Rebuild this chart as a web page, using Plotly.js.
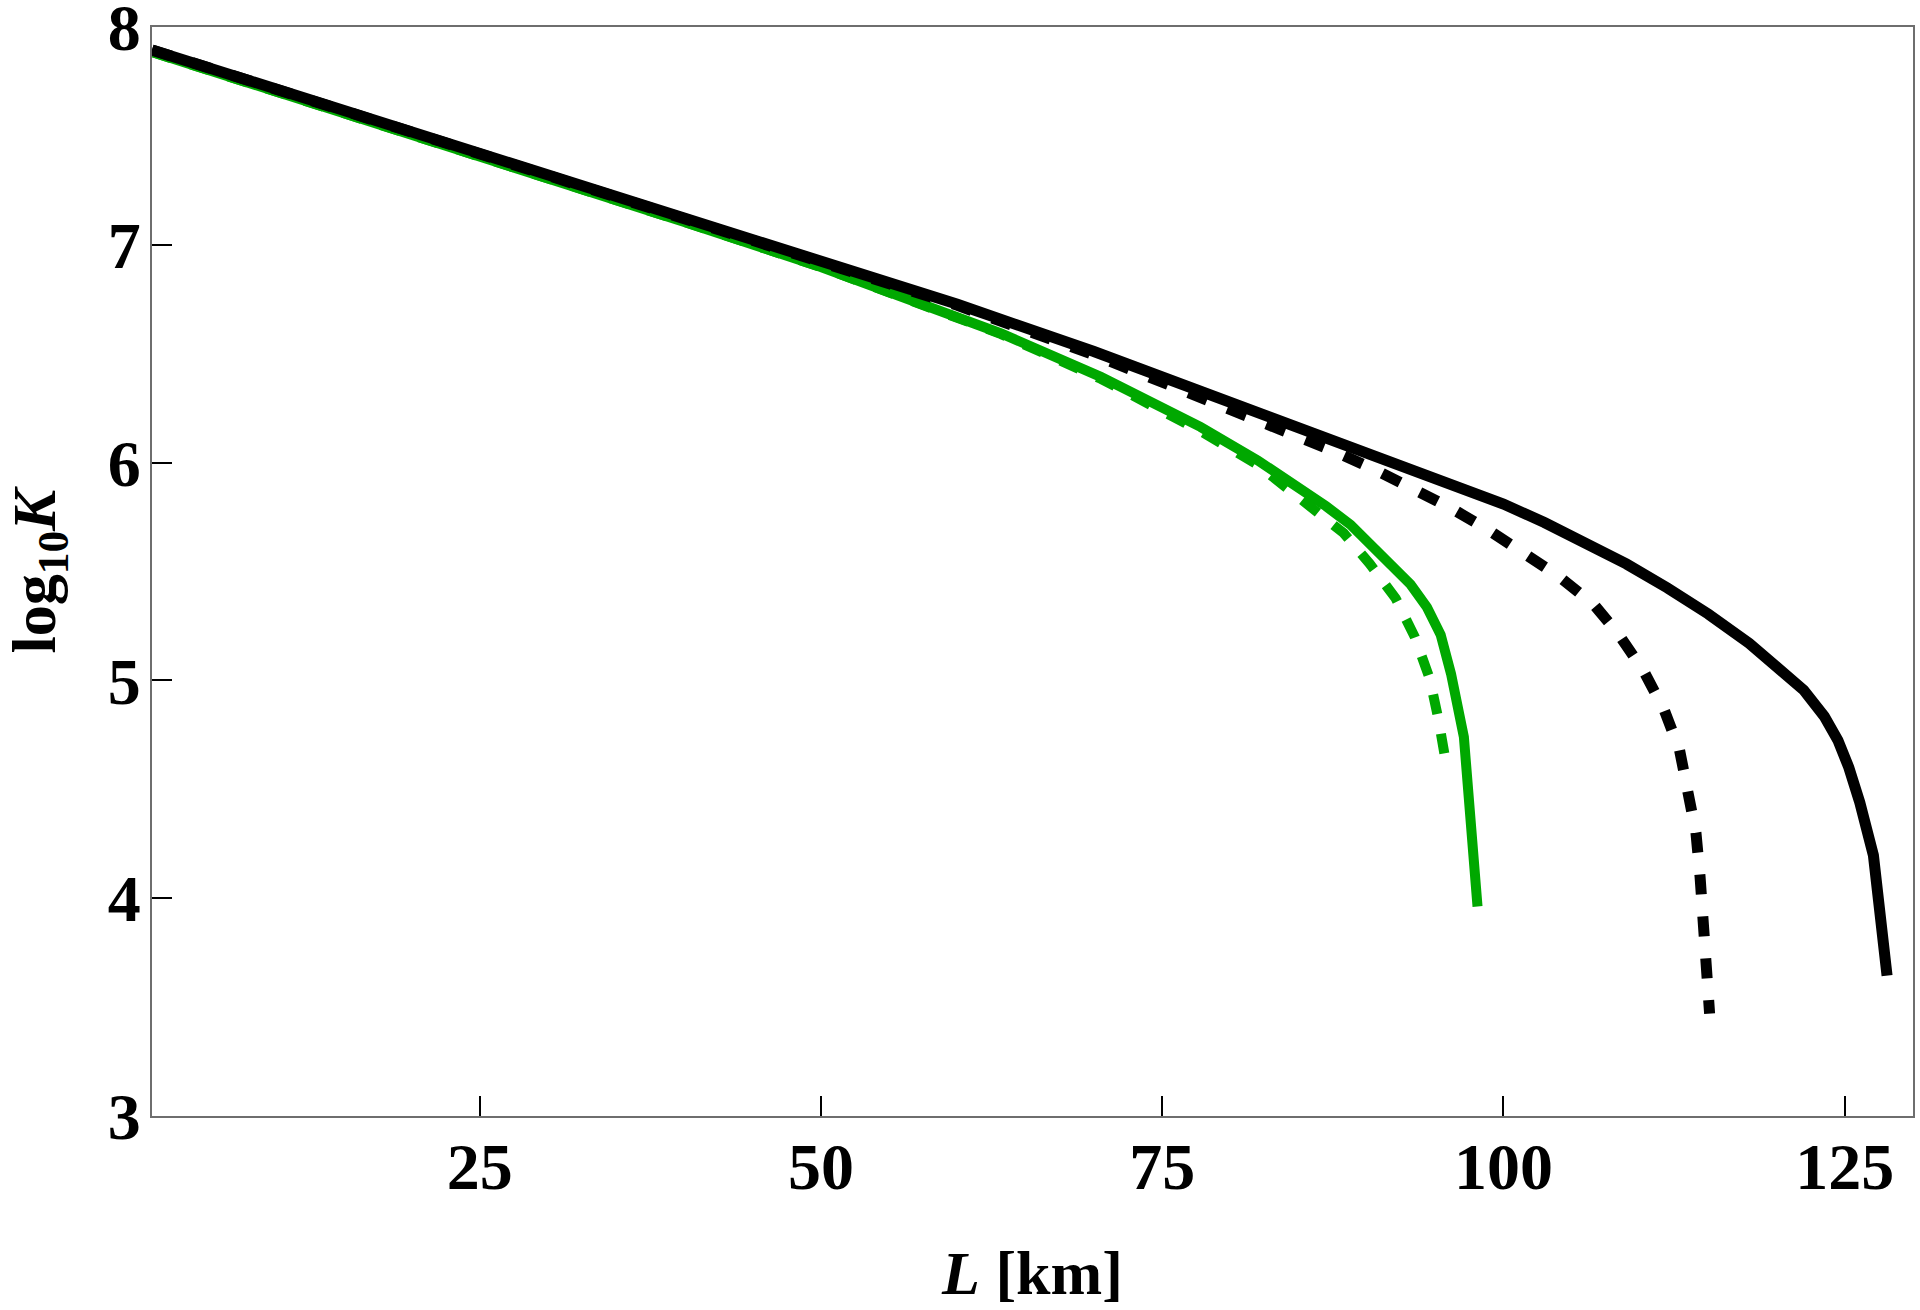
<!DOCTYPE html>
<html>
<head>
<meta charset="utf-8">
<script src="https://cdn.plot.ly/plotly-3.0.1.min.js"></script>
<style>
  html, body { margin: 0; padding: 0; background: #fff; }
  #graph { width: 1920px; height: 1310px; }
</style>
</head>
<body>
<div id="graph"></div>
<script>
// L [km] and log10 K
var blackSolidL = [1, 10, 20, 30, 40, 50, 60, 70, 80, 90, 100, 103, 106, 109, 112, 115, 118, 120.1, 122, 123.5, 124.5, 125.3, 126.1, 127.1, 128.1];
var blackSolidK = [7.895, 7.717, 7.519, 7.321, 7.123, 6.925, 6.727, 6.51, 6.28, 6.045, 5.81, 5.725, 5.635, 5.535, 5.425, 5.305, 5.17, 5.065, 4.955, 4.835, 4.725, 4.60, 4.44, 4.197, 3.645];

var blackDashL = [1, 10, 20, 30, 40, 50, 60, 70, 79, 84.6, 87.5, 90.5, 93.3, 96.1, 98.8, 101.2, 104, 106.6, 108.4, 110.3, 111.8, 112.9, 113.6, 114.1, 114.4, 114.6, 114.8, 115.1];
var blackDashK = [7.895, 7.717, 7.519, 7.321, 7.123, 6.925, 6.722, 6.495, 6.273, 6.135, 6.055, 5.97, 5.886, 5.793, 5.695, 5.60, 5.48, 5.35, 5.215, 5.04, 4.86, 4.68, 4.49, 4.30, 4.10, 3.91, 3.71, 3.47];

var greenSolidL = [1, 10, 20, 30, 40, 50, 59.5, 63.2, 70.5, 77.8, 82, 85.2, 87, 88.8, 91.3, 93.2, 94.4, 95.4, 96.16, 97.1, 98.1];
var greenSolidK = [7.885, 7.706, 7.507, 7.309, 7.105, 6.898, 6.686, 6.593, 6.394, 6.164, 6.01, 5.88, 5.80, 5.715, 5.565, 5.44, 5.335, 5.21, 5.03, 4.74, 3.962];

var greenDashL = [1, 10, 20, 30, 40, 50, 59.5, 63.2, 70.5, 77.8, 82, 85.9, 88.3, 90.2, 92.1, 93.5, 94.6, 95.25, 95.8, 95.9];
var greenDashK = [7.885, 7.706, 7.507, 7.307, 7.105, 6.898, 6.684, 6.59, 6.385, 6.145, 5.99, 5.797, 5.676, 5.536, 5.377, 5.20, 5.008, 4.817, 4.625, 4.58];

var xTicks = [25, 50, 75, 100, 125];
var yTicks = [3, 4, 5, 6, 7, 8];

var green = 'rgb(0,168,0)';
var serif = 'Liberation Serif, Times New Roman, serif';

var traces = [
    { x: greenSolidL, y: greenSolidK, type: 'scatter', mode: 'lines',
      line: { color: green, width: 10 } },
    { x: greenDashL, y: greenDashK, type: 'scatter', mode: 'lines',
      line: { color: green, width: 10, dash: '20px,20px' } },
    { x: blackSolidL, y: blackSolidK, type: 'scatter', mode: 'lines',
      line: { color: 'black', width: 11 } },
    { x: blackDashL, y: blackDashK, type: 'scatter', mode: 'lines',
      line: { color: 'black', width: 11, dash: '20px,22px' } }
];

var axisCommon = {
    showgrid: false,
    zeroline: false,
    showline: true,
    linecolor: '#6e6e6e',
    linewidth: 2,
    mirror: true,
    ticks: 'inside',
    ticklen: 20,
    tickwidth: 2,
    tickcolor: 'black',
    ticklabeloverflow: 'allow',
    tickfont: { family: serif, size: 66, color: 'black', weight: 'bold' }
};

var layout = {
    width: 1920,
    height: 1310,
    margin: { l: 152, r: 7, t: 27, b: 194 },
    paper_bgcolor: 'white',
    plot_bgcolor: 'white',
    showlegend: false,
    xaxis: Object.assign({}, axisCommon, {
        range: [1, 130],
        tickvals: xTicks,
        ticktext: xTicks.map(String),
        ticklabelstandoff: -8,
        title: { text: '<i>L</i> [km]', standoff: 48,
                 font: { family: serif, size: 62, color: 'black', weight: 'bold' } }
    }),
    yaxis: Object.assign({}, axisCommon, {
        range: [3, 8],
        tickvals: yTicks,
        ticktext: yTicks.map(String),
        ticklabelstandoff: -4,
        title: { text: 'log<sub>10</sub><i>K</i>', standoff: 34,
                 font: { family: serif, size: 62, color: 'black', weight: 'bold' } }
    })
};

Plotly.newPlot('graph', traces, layout, { displayModeBar: false, staticPlot: true });
</script>
</body>
</html>
